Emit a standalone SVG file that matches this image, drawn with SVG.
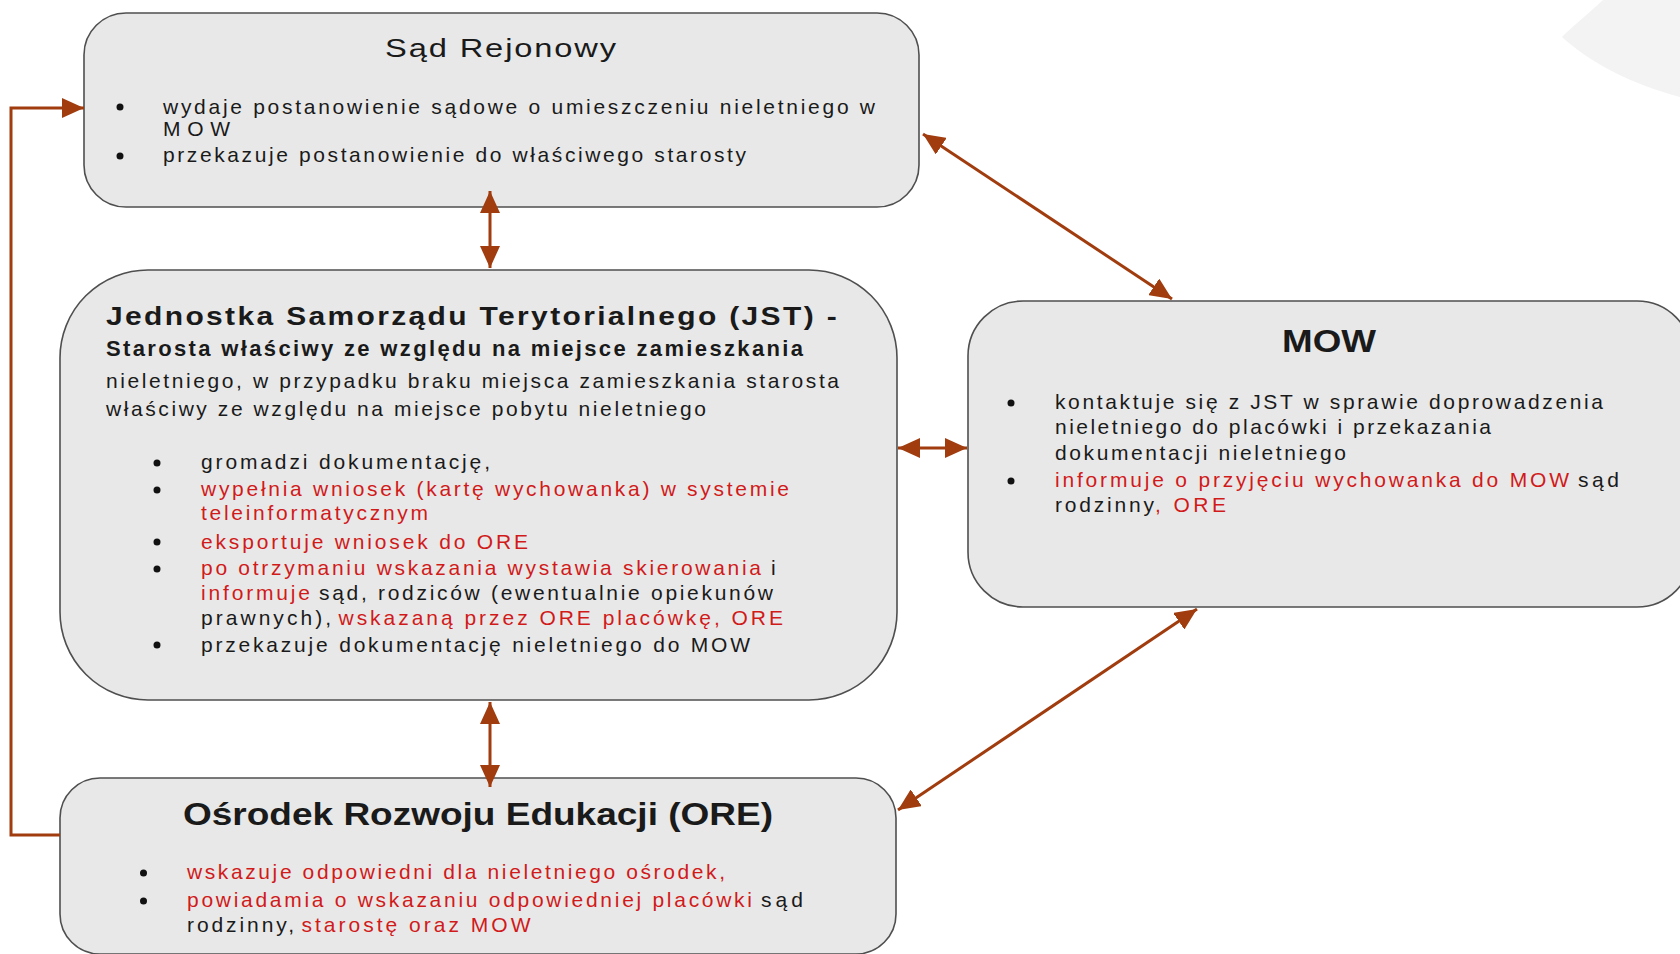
<svg xmlns="http://www.w3.org/2000/svg" width="1680" height="954" viewBox="0 0 1680 954">
<style>
.box{fill:#e8e8e8;stroke:#4f4f4f;stroke-width:1.6}
.t{font-family:"Liberation Sans",Arial,sans-serif;font-size:21px;fill:#1a1a1a}
.r{fill:#d11a1a}
.b{font-weight:bold}
.bul{fill:#111}
.con{fill:none;stroke:#a03c0e;stroke-width:3}
</style>
<defs>
<marker id="ah" markerUnits="userSpaceOnUse" markerWidth="22" markerHeight="20" refX="22" refY="10" orient="auto-start-reverse" viewBox="0 0 22 20">
<path d="M0,0 L22,10 L0,20 Z" fill="#a03c0e"/>
</marker>
</defs>
<rect width="1680" height="954" fill="#ffffff"/>
<path d="M1603,0 C1588,14 1572,27 1562,37 C1592,64 1632,84 1680,97 L1680,0 Z" fill="#f3f3f3"/>

<g id="sad">
<rect class="box" x="84" y="13" width="835" height="194" rx="42" ry="42"/>
<text class="t" x="385" y="57" style="font-size:26px;letter-spacing:1.5px" textLength="233" lengthAdjust="spacingAndGlyphs">Sąd Rejonowy</text>
<circle class="bul" cx="120" cy="107" r="3.5"/>
<circle class="bul" cx="120" cy="156" r="3.5"/>
<text class="t" x="163" y="114" textLength="712" lengthAdjust="spacing">wydaje postanowienie sądowe o umieszczeniu nieletniego w</text>
<text class="t" x="163" y="136" textLength="67" lengthAdjust="spacing">MOW</text>
<text class="t" x="163" y="162" textLength="583" lengthAdjust="spacing">przekazuje postanowienie do właściwego starosty</text>
</g>

<g id="jst">
<rect class="box" x="60" y="270" width="837" height="430" rx="88" ry="88"/>
<text class="t b" x="106" y="325" style="font-size:25.5px;letter-spacing:2px" textLength="733" lengthAdjust="spacingAndGlyphs">Jednostka Samorządu Terytorialnego (JST) -</text>
<text class="t b" x="106" y="356" style="font-size:22px" textLength="697" lengthAdjust="spacing">Starosta właściwy ze względu na miejsce zamieszkania</text>
<text class="t" x="106" y="388" textLength="733" lengthAdjust="spacing">nieletniego, w przypadku braku miejsca zamieszkania starosta</text>
<text class="t" x="106" y="416" textLength="600" lengthAdjust="spacing">właściwy ze względu na miejsce pobytu nieletniego</text>
<circle class="bul" cx="157" cy="463" r="3.5"/>
<circle class="bul" cx="157" cy="490" r="3.5"/>
<circle class="bul" cx="157" cy="542" r="3.5"/>
<circle class="bul" cx="157" cy="569" r="3.5"/>
<circle class="bul" cx="157" cy="645" r="3.5"/>
<text class="t" x="201" y="469" textLength="289" lengthAdjust="spacing">gromadzi dokumentację,</text>
<text class="t r" x="201" y="496" textLength="588" lengthAdjust="spacing">wypełnia wniosek (kartę wychowanka) w systemie</text>
<text class="t r" x="201" y="520" textLength="227" lengthAdjust="spacing">teleinformatycznym</text>
<text class="t r" x="201" y="549" textLength="327" lengthAdjust="spacing">eksportuje wniosek do ORE</text>
<text class="t r" x="201" y="575" textLength="560" lengthAdjust="spacing">po otrzymaniu wskazania wystawia skierowania</text>
<text class="t" x="771" y="575">i</text>
<text class="t r" x="201" y="600" textLength="109" lengthAdjust="spacing">informuje</text>
<text class="t" x="319" y="600" textLength="454" lengthAdjust="spacing">sąd, rodziców (ewentualnie opiekunów</text>
<text class="t" x="201" y="625" textLength="130" lengthAdjust="spacing">prawnych),</text>
<text class="t r" x="338.5" y="625" textLength="444.5" lengthAdjust="spacing">wskazaną przez ORE placówkę, ORE</text>
<text class="t" x="201" y="652" textLength="549" lengthAdjust="spacing">przekazuje dokumentację nieletniego do MOW</text>
</g>

<g id="mow">
<rect class="box" x="968" y="301" width="724" height="306" rx="55" ry="55"/>
<text class="t b" x="1282" y="352" style="font-size:31px" textLength="94" lengthAdjust="spacingAndGlyphs">MOW</text>
<circle class="bul" cx="1011" cy="403" r="3.5"/>
<circle class="bul" cx="1011" cy="481" r="3.5"/>
<text class="t" x="1055" y="409" textLength="548" lengthAdjust="spacing">kontaktuje się z JST w sprawie doprowadzenia</text>
<text class="t" x="1055" y="434" textLength="436" lengthAdjust="spacing">nieletniego do placówki i przekazania</text>
<text class="t" x="1055" y="460" textLength="291" lengthAdjust="spacing">dokumentacji nieletniego</text>
<text class="t r" x="1055" y="487" textLength="514" lengthAdjust="spacing">informuje o przyjęciu wychowanka do MOW</text>
<text class="t" x="1578" y="487" textLength="41" lengthAdjust="spacing">sąd</text>
<text class="t" x="1055" y="512" textLength="99" lengthAdjust="spacing">rodzinny</text>
<text class="t r" x="1155" y="512" textLength="71" lengthAdjust="spacing">, ORE</text>
</g>

<g id="ore">
<rect class="box" x="60" y="778" width="836" height="176" rx="40" ry="40"/>
<text class="t b" x="183" y="825" style="font-size:32px" textLength="590" lengthAdjust="spacingAndGlyphs">Ośrodek Rozwoju Edukacji (ORE)</text>
<circle class="bul" cx="143.5" cy="873" r="3.5"/>
<circle class="bul" cx="143.5" cy="901" r="3.5"/>
<text class="t r" x="187" y="879" textLength="538" lengthAdjust="spacing">wskazuje odpowiedni dla nieletniego ośrodek,</text>
<text class="t r" x="187" y="907" textLength="565" lengthAdjust="spacing">powiadamia o wskazaniu odpowiedniej placówki</text>
<text class="t" x="761" y="907" textLength="42" lengthAdjust="spacing">sąd</text>
<text class="t" x="187" y="932" textLength="107" lengthAdjust="spacing">rodzinny,</text>
<text class="t r" x="301.5" y="932" textLength="229" lengthAdjust="spacing">starostę oraz MOW</text>
</g>

<g id="connectors">
<polyline class="con" points="60,835 11,835 11,108 84,108" marker-end="url(#ah)"/>
<line class="con" x1="490" y1="191" x2="490" y2="268" marker-start="url(#ah)" marker-end="url(#ah)"/>
<line class="con" x1="490" y1="702" x2="490" y2="787" marker-start="url(#ah)" marker-end="url(#ah)"/>
<line class="con" x1="898" y1="448" x2="967" y2="448" marker-start="url(#ah)" marker-end="url(#ah)"/>
<line class="con" x1="923" y1="134" x2="1172" y2="299" marker-start="url(#ah)" marker-end="url(#ah)"/>
<line class="con" x1="1197" y1="609" x2="898" y2="810" marker-start="url(#ah)" marker-end="url(#ah)"/>
</g>
</svg>
